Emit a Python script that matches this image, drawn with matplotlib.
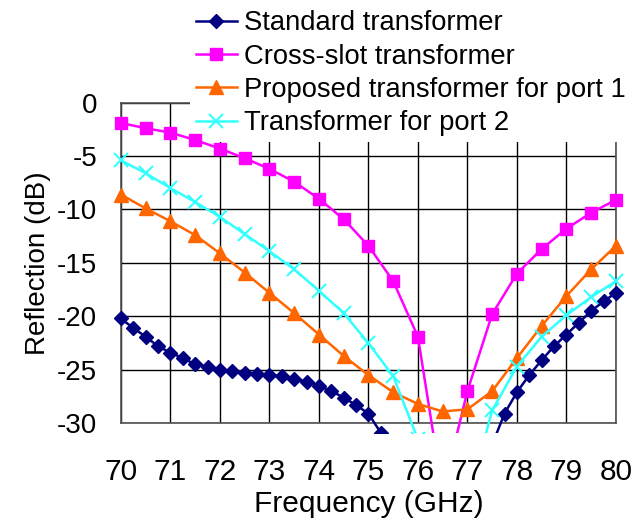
import matplotlib.pyplot as plt
from matplotlib.transforms import Bbox, TransformedBbox

plt.rcParams["font.family"] = ["Liberation Sans", "DejaVu Sans"]
plt.rcParams["axes.unicode_minus"] = False

# Frequency points (GHz).
freq_fine = [70 + 0.25 * i for i in range(41)]
freq = [70 + 0.5 * i for i in range(21)]

# Reflection values (dB).
standard = [-20.2, -21.1, -21.9, -22.8, -23.4, -23.9, -24.5, -24.7, -25.0, -25.1,
            -25.3, -25.4, -25.5, -25.6, -25.9, -26.1, -26.5, -27.0, -27.6, -28.3,
            -29.1, -30.9, -33.0, -35.5, -38.0, -40.0, -41.0, -40.0, -38.0, -35.0,
            -32.0, -29.1, -27.1, -25.5, -24.1, -22.8, -21.7, -20.6, -19.5, -18.6,
            -17.8]
cross_slot = [-1.9, -2.4, -2.8, -3.5, -4.3, -5.2, -6.2, -7.4, -9.0, -10.9, -13.4,
              -16.7, -21.9, -36.5, -27.0, -19.8, -16.0, -13.7, -11.8, -10.3, -9.1]
proposed_p1 = [-8.6, -9.9, -11.1, -12.4, -14.1, -15.9, -17.8, -19.7, -21.7, -23.7,
               -25.5, -27.1, -28.2, -28.9, -28.7, -27.0, -23.9, -20.9, -18.1, -15.6,
               -13.4]
port2 = [-5.4, -6.6, -8.0, -9.3, -10.7, -12.3, -13.9, -15.6, -17.6, -19.7, -22.5,
         -25.6, -31.5, -40.0, -37.5, -28.8, -24.7, -21.9, -19.9, -18.2, -16.7]

fig = plt.figure(figsize=(6.33, 5.29), dpi=100)
ax = fig.add_axes([0.191, 0.200, 0.782, 0.606])

lines = []
lines += ax.plot(freq_fine, standard, "-D", color="#000080", lw=1.8, ms=7,
                 label="Standard transformer")
lines += ax.plot(freq, cross_slot, "-s", color="#ff00ff", lw=1.8, ms=8.5,
                 label="Cross-slot transformer")
lines += ax.plot(freq, proposed_p1, "-^", color="#ff6600", lw=1.8, ms=10,
                 label="Proposed transformer for port 1")
lines += ax.plot(freq, port2, "-x", color="#33ffff", lw=1.8, ms=10, mew=1.5,
                 label="Transformer for port 2")

# Plot area in the original lets lines run a little below the -30 axis.
clip = TransformedBbox(Bbox([[-0.02, -0.03], [1.02, 1.0]]), ax.transAxes)
for ln in lines:
    ln.set_clip_box(clip)

ax.set_xlim(70, 80)
ax.set_ylim(-30, 0)
ax.set_xticks(range(70, 81))
ax.set_yticks(range(-30, 1, 5))
ax.grid(True, color="black", lw=1)
ax.set_axisbelow(True)
for s in ax.spines.values():
    s.set_color("#505050")
    s.set_linewidth(1.2)
    s.set_zorder(1)
ax.tick_params(length=0)
ax.tick_params(axis="x", pad=25, labelsize=21.5)
ax.tick_params(axis="y", pad=17, labelsize=20)

ax.set_xlabel("Frequency (GHz)", fontsize=21.5, labelpad=3)
ax.set_ylabel("Reflection (dB)", fontsize=20, labelpad=4)

# Legend hides grid and frame but sits under the data lines.
leg = ax.legend(loc="upper left", bbox_to_anchor=(0.279, 1.017),
                bbox_transform=fig.transFigure, fontsize=19.7,
                frameon=True, fancybox=False, edgecolor="none",
                handlelength=1.5, handletextpad=0.25, labelspacing=0.27,
                borderpad=0.2, framealpha=1)
leg.set_zorder(1.5)

fig.savefig("out.png", dpi=100)
